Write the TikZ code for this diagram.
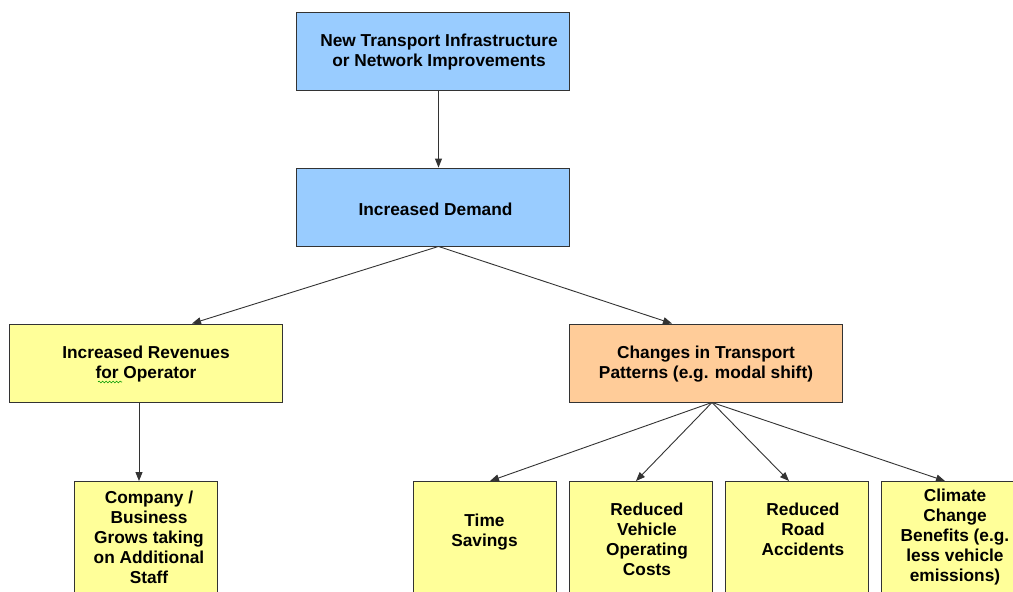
\documentclass[tikz,border=0pt]{standalone}
\usepackage{fontspec}
\setmainfont{Liberation Sans}
\usetikzlibrary{arrows.meta,decorations.pathmorphing}
\definecolor{boxblue}{HTML}{99CCFF}
\definecolor{boxyellow}{HTML}{FFFF99}
\definecolor{boxorange}{HTML}{FFCC99}
\definecolor{edgegray}{HTML}{333333}
\tikzset{
  box/.style={draw=edgegray, line width=0.9pt, rectangle, inner sep=0pt,
    minimum width=273pt, minimum height=78pt},
  leafbox/.style={draw=edgegray, line width=0.9pt, rectangle, inner sep=0pt,
    minimum width=143pt, minimum height=140pt, anchor=north, fill=boxyellow},
  txt/.style={align=center, inner sep=0pt, font=\fontsize{17.3}{20}\selectfont\bfseries},
  arr/.style={draw=edgegray, line width=0.9pt, -{Triangle[length=9pt,width=7pt]}},
}
\begin{document}
\begin{tikzpicture}[x=1pt,y=-1pt]
\useasboundingbox (0,0) rectangle (1013,592);
\fill[white] (0,0) rectangle (1013,592);
\clip (0,0) rectangle (1013,592);
% upper boxes
\node[box, fill=boxblue] (top) at (432.5,51) {};
\node[txt] (toptxt) at (439,52) {New Transport Infrastructure\\ or Network Improvements};
\node[box, fill=boxblue] (dem) at (432.5,207) {};
\node[txt] (demtxt) at (435.5,209.5) {Increased Demand};
\node[box, fill=boxyellow] (rev) at (146,363) {};
\node[txt] (revtxt) at (146,364) {Increased Revenues\\for Operator};
\node[box, fill=boxorange] (chg) at (705.5,363) {};
\node[txt] (chgtxt) at (706,364) {Changes in Transport\\Patterns (e.g. modal shift)};
% squiggle under "for"
\draw[green!60!black, line width=0.6pt, decorate, decoration={snake, amplitude=0.9pt, segment length=3.5pt}] (98,382) -- (122,382);
% bottom boxes
\node[leafbox] (comp) at (146,481) {};
\node[txt] (comptxt) at (149,537) {Company /\\Business\\Grows taking\\on Additional\\Staff};
\node[leafbox] (time) at (484.5,481) {};
\node[txt] (timetxt) at (484.5,532.5) {Time\\Savings};
\node[leafbox] (rvoc) at (640.5,481) {};
\node[txt] (rvoctxt) at (647,539) {Reduced\\Vehicle\\Operating\\Costs};
\node[leafbox] (road) at (796.5,481) {};
\node[txt] (roadtxt) at (803,529) {Reduced\\Road\\Accidents};
\node[leafbox] (clim) at (952.5,481) {};
\node[txt] (climtxt) at (955,537) {Climate\\Change\\Benefits (e.g.\\less vehicle\\emissions)};
% connectors
\draw[arr] ([xshift=6pt]top.south) -- ([xshift=6pt]dem.north);
\draw[arr] ([xshift=6pt]dem.south) -- ([xshift=46pt]rev.north);
\draw[arr] ([xshift=6pt]dem.south) -- ([xshift=-33.5pt]chg.north);
\draw[arr] ([xshift=-7pt]rev.south) -- ([xshift=-7pt]comp.north);
\draw[arr] ([xshift=6.5pt]chg.south) -- ([xshift=5.5pt]time.north);
\draw[arr] ([xshift=6.5pt]chg.south) -- ([xshift=-4.5pt]rvoc.north);
\draw[arr] ([xshift=6.5pt]chg.south) -- ([xshift=-7.5pt]road.north);
\draw[arr] ([xshift=6.5pt]chg.south) -- ([xshift=-7.5pt]clim.north);
\end{tikzpicture}
\end{document}
